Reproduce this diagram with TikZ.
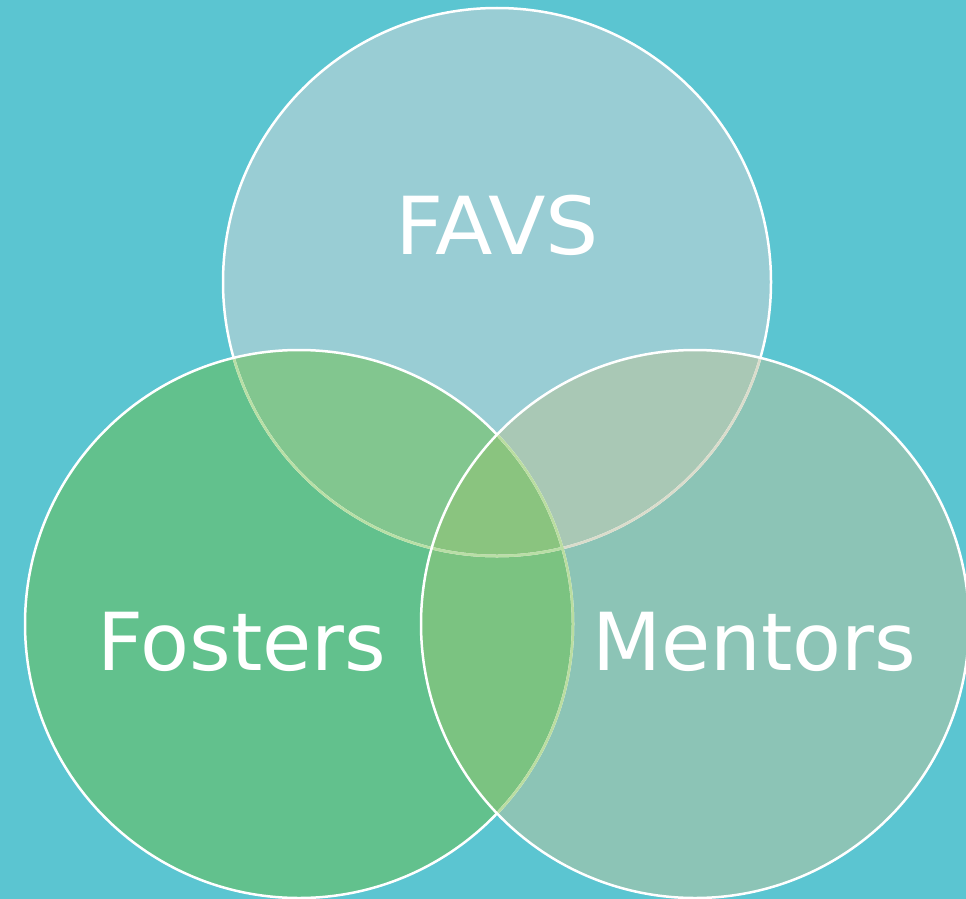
\documentclass[tikz,border=0pt]{standalone}
\usepackage{fontspec}
\setmainfont{DejaVu Sans}
\definecolor{bg}{HTML}{5BC5D1}
\definecolor{cA}{HTML}{99CDD4}
\definecolor{cB}{HTML}{62C18D}
\definecolor{cC}{HTML}{8CC4B6}
\definecolor{cAB}{HTML}{82C68F}
\definecolor{cAC}{HTML}{A9C8B5}
\definecolor{cBC}{HTML}{7BC381}
\definecolor{cABC}{HTML}{8AC47F}
\definecolor{lnB}{HTML}{B8DFA5}
\definecolor{lnC}{HTML}{DADCCB}
\definecolor{lnBC}{HTML}{BADDA0}
\tikzset{
  ring/.style={line width=2.5pt},
  lbl/.style={text=white, font=\fontsize{80}{96}\selectfont, anchor=base, inner sep=0pt}
}
\begin{document}
\begin{tikzpicture}[x=1pt,y=-1pt]
\fill[bg] (0,0) rectangle (966,899);
\path[use as bounding box] (0,0) rectangle (966,899);
\coordinate (A) at (497,282);
\coordinate (B) at (299,624);
\coordinate (C) at (695,624);
\def\R{274pt}
% fills
\fill[cA] (A) circle (\R);
\fill[cB] (B) circle (\R);
\fill[cC] (C) circle (\R);
\begin{scope}
  \clip (A) circle (\R);
  \fill[cAB] (B) circle (\R);
  \fill[cAC] (C) circle (\R);
\end{scope}
\begin{scope}
  \clip (B) circle (\R);
  \fill[cBC] (C) circle (\R);
  \clip (A) circle (\R);
  \fill[cABC] (C) circle (\R);
\end{scope}
% outlines
\draw[ring, white] (A) circle (\R);
\begin{scope}
  \clip (B) circle (\R);
  \draw[ring, lnB] (A) circle (\R);
\end{scope}
\draw[ring, white] (B) circle (\R);
\begin{scope}
  \clip (C) circle (\R);
  \draw[ring, lnC] (A) circle (\R);
  \draw[ring, lnBC] (B) circle (\R);
  \clip (B) circle (\R);
  \draw[ring, lnB] (A) circle (\R);
\end{scope}
\draw[ring, white] (C) circle (\R);
% labels
\node[lbl, xscale=1.05] (favs) at (497,254) {FAVS};
\node[lbl] (fosters) at (242,670) {Fosters};
\node[lbl] (mentors) at (754,670) {Mentors};
\end{tikzpicture}
\end{document}
